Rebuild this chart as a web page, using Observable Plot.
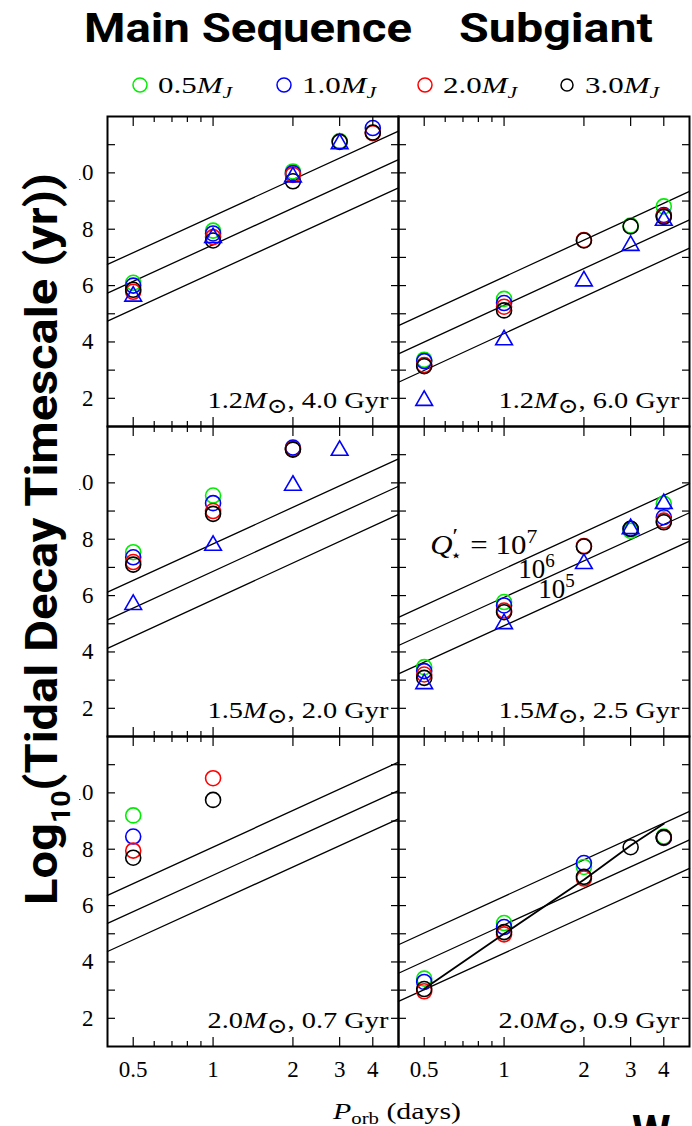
<!DOCTYPE html>
<html><head><meta charset="utf-8">
<script src="https://cdn.jsdelivr.net/npm/d3@7"></script>
<script src="https://cdn.jsdelivr.net/npm/@observablehq/plot@0.6"></script>
<style>
html,body{margin:0;padding:0;background:#fff;overflow:hidden;}
#chart{width:692px;height:1126px;}
</style></head><body><div id="chart"></div>
<script>
// ---------- data ----------
const columns = ["Main Sequence", "Subgiant"];
const rowIds = [0, 1, 2];
const periods = [0.5, 1, 2, 3, 4];               // orbital period (days)
const planetMasses = ["0.5", "1.0", "2.0", "3.0"]; // M_J
const massColors = ["#00ee00", "#0000ff", "#ff0000", "#000000"];
const xMajorTicks = [0.5, 1, 2, 3, 4];
const xMinorTicks = [0.6, 0.7, 0.8, 0.9];
const yLabelTicks = [2, 4, 6, 8, 10];
const yAllTicks = [2, 3, 4, 5, 6, 7, 8, 9, 10, 11];

// panels (reading order): column, row, stellar mass, age
const panelCol = [0, 1, 0, 1, 0, 1];
const panelRow = [0, 0, 1, 1, 2, 2];
const stellarMass = ["1.2", "1.2", "1.5", "1.5", "2.0", "2.0"];
const stellarAge = ["4.0", "6.0", "2.0", "2.5", "0.7", "0.9"];

// log10 tidal decay timescale, per panel, at periods 0.5,1,2,3,4 d
const tau05 = [
  [6.10, 7.95, 10.05, 11.13, null],
  [3.37, 5.53, null, 8.13, 8.81],
  [7.54, 9.55, 11.22, null, null],
  [3.46, 5.77, null, 8.30, 9.26],
  [9.20, null, null, null, null],
  [3.41, 5.38, 7.37, null, 8.45]
];
const tau10 = [
  [6.00, 7.85, 9.99, null, 11.59],
  [3.32, 5.38, null, null, 8.50],
  [7.36, 9.28, 11.25, null, null],
  [3.32, 5.65, null, 8.37, 8.78],
  [8.45, null, null, null, null],
  [3.29, 5.24, 7.51, null, 8.40]
];
const tau20 = [
  [5.78, 7.72, 9.93, null, 11.41],
  [3.18, 5.25, 7.62, null, 8.47],
  [7.19, 9.00, 11.20, null, null],
  [3.20, 5.47, 7.76, null, 8.66],
  [7.95, 10.52, null, null, null],
  [2.96, 4.98, 6.96, null, 8.42]
];
const tau30 = [
  [5.85, 7.60, 9.70, 11.10, 11.43],
  [3.14, 5.12, 7.60, 8.10, 8.44],
  [7.10, 8.90, 11.18, null, null],
  [3.08, 5.41, 7.74, 8.37, 8.60],
  [7.70, 9.75, null, null, null],
  [3.04, 5.06, 7.02, 8.07, 8.42]
];
const tauTriangle = [
  [5.62, 7.70, 9.85, 11.03, null],
  [1.92, 4.07, 6.16, 7.42, 8.31],
  [5.68, 7.78, 9.91, 11.15, null],
  [2.87, 5.00, 7.13, 8.37, 9.26],
  [null, null, null, null, null],
  [null, null, null, null, null]
];
const trackPanel = 5;
const trackTau = [3.05, 5.00, 6.92, 8.13, 8.90];

// Q'* reference lines: values at the two ends of the period axis
const qPeriods = [0.4, 5];
const qNames = ["1e7", "1e6", "1e5"];
const qTau7 = [[6.75, 11.48], [4.58, 9.34], [6.12, 10.85], [5.23, 9.97], [6.36, 11.09], [4.61, 9.34]];
const qTau6 = [[5.73, 10.47], [3.58, 8.33], [5.14, 9.88], [4.23, 8.94], [5.37, 10.08], [3.60, 8.33]];
const qTau5 = [[4.74, 9.47], [2.57, 7.33], [4.13, 8.88], [3.22, 7.93], [4.37, 9.08], [2.60, 7.32]];

// Q'* annotations (panel 3)
const qLabelPanel = 3;
const qLabelText = ["Q′⋆ = 10^7", "10^6", "10^5"];
const qLabelP = [0.527, 1.132, 1.346];
const qLabelTau = [7.49, 6.61, 5.93];

// ---------- tables ----------
const colOf = p => columns[panelCol[p]];
const circles = [];
[tau05, tau10, tau20, tau30].forEach((series, k) =>
  series.forEach((vals, p) => vals.forEach((v, i) => {
    if (v != null) circles.push({col: colOf(p), row: panelRow[p], P: periods[i], tau: v, mass: planetMasses[k]});
  })));
const triangles = [];
tauTriangle.forEach((vals, p) => vals.forEach((v, i) => {
  if (v != null) triangles.push({col: colOf(p), row: panelRow[p], P: periods[i], tau: v});
}));
const qRows = [];
[qTau7, qTau6, qTau5].forEach((series, k) => series.forEach((vals, p) => vals.forEach((v, i) =>
  qRows.push({col: colOf(p), row: panelRow[p], P: qPeriods[i], tau: v, q: qNames[k]}))));
const trackRows = trackTau.map((v, i) => ({col: colOf(trackPanel), row: panelRow[trackPanel], P: periods[i], tau: v}));
const panelLabels = stellarMass.map((m, p) => ({col: colOf(p), row: panelRow[p], text: `${m}M⊙, ${stellarAge[p]} Gyr`}));
const qLabels = qLabelText.map((t, i) => ({col: colOf(qLabelPanel), row: panelRow[qLabelPanel], P: qLabelP[i], tau: qLabelTau[i], text: t}));

const tickCommon = {fill: "none", label: null, facetAnchor: null, strokeWidth: 1.2};

const chart = Plot.plot({
  width: 692, height: 1126,
  marginTop: 116, marginBottom: 80, marginLeft: 107, marginRight: 3,
  style: {fontFamily: "'Liberation Serif', 'DejaVu Serif', serif", fontSize: "23px", color: "black", background: "white", overflow: "hidden"},
  x: {type: "log", domain: [0.4, 5]},
  y: {domain: [1, 12]},
  fx: {domain: columns, padding: 0, axis: null},
  fy: {domain: rowIds, padding: 0, axis: null},
  color: {domain: planetMasses, range: massColors},
  marks: [
    Plot.line(qRows, {x: "P", y: "tau", z: "q", fx: "col", fy: "row", stroke: "black", strokeWidth: 1.3}),
    Plot.dot(circles, {x: "P", y: "tau", fx: "col", fy: "row", stroke: "mass", fill: "none", r: 7.5, strokeWidth: 1.6}),
    Plot.dot(triangles, {x: "P", y: "tau", fx: "col", fy: "row", symbol: "triangle", stroke: "#0000ff", fill: "none", r: 6.2, strokeWidth: 1.6}),
    Plot.line(trackRows, {x: "P", y: "tau", fx: "col", fy: "row", stroke: "black", strokeWidth: 1.8}),
    Plot.frame({stroke: "black", strokeWidth: 2}),
    Plot.axisY({anchor: "left", ticks: yLabelTicks, tickSize: 0, tickPadding: 14, label: null, tickFormat: d => String(d)}),
    Plot.axisY({anchor: "left", ticks: yAllTicks, tickSize: -8, ...tickCommon}),
    Plot.axisY({anchor: "right", ticks: yAllTicks, tickSize: -8, ...tickCommon}),
    Plot.axisX({anchor: "bottom", ticks: xMajorTicks, tickSize: 0, tickPadding: 14, label: null, tickFormat: d => String(d)}),
    Plot.axisX({anchor: "bottom", ticks: xMajorTicks, tickSize: -9, ...tickCommon}),
    Plot.axisX({anchor: "bottom", ticks: xMinorTicks, tickSize: -5, ...tickCommon}),
    Plot.axisX({anchor: "top", ticks: xMajorTicks, tickSize: -9, ...tickCommon}),
    Plot.axisX({anchor: "top", ticks: xMinorTicks, tickSize: -5, ...tickCommon}),
    Plot.text(panelLabels, {fx: "col", fy: "row", text: "text", frameAnchor: "bottom-right", textAnchor: "end", lineAnchor: "bottom", dx: -10, dy: -19, fontSize: 24, fill: "black"}),
    Plot.text(qLabels, {x: "P", y: "tau", fx: "col", fy: "row", text: "text", textAnchor: "start", lineAnchor: "bottom", fontSize: 27, fill: "black"})
  ]
});
document.getElementById("chart").appendChild(chart);
chart.style.overflow = "hidden";

const svg = d3.select(chart);

// math formatting of the panel and Q'* labels
svg.selectAll("text").each(function () {
  const s = this.textContent;
  const t = d3.select(this);
  const m = s.match(/^(.*)M⊙, (.*)$/);
  if (m) {
    t.text(null);
    t.append("tspan").text(m[1]);
    t.append("tspan").attr("font-style", "italic").text("M");
    t.append("tspan").attr("font-size", "21px").attr("dy", "5").text("⊙");
    t.append("tspan").attr("dy", "-5").text(", " + m[2]);
    t.attr("textLength", 181).attr("lengthAdjust", "spacingAndGlyphs");
    return;
  }
  if (s.includes("^")) {
    const parts = s.split("^");
    t.text(null);
    if (parts[0].startsWith("Q")) {
      t.append("tspan").attr("font-style", "italic").text("Q");
      t.append("tspan").attr("font-size", "22px").attr("dy", "-11").text("′");
      t.append("tspan").attr("font-size", "17px").attr("dx", "-7").attr("dy", "18").text("⋆");
      t.append("tspan").attr("dy", "-7").text(parts[0].replace(/^Q′⋆/, ""));
      t.append("tspan").attr("font-size", "19px").attr("dy", "-11").text(parts[1]);
      t.attr("textLength", 107).attr("lengthAdjust", "spacingAndGlyphs");
    } else {
      t.append("tspan").text(parts[0]);
      t.append("tspan").attr("font-size", "19px").attr("dy", "-11").text(parts[1]);
    }
  }
});

// ---------- annotations ----------
const sans = "Roboto, 'Open Sans', 'DejaVu Sans', sans-serif";
const serif = "'Liberation Serif', 'DejaVu Serif', serif";

// white band behind the big y title
svg.append("rect").attr("x", 0).attr("y", 100).attr("width", 79).attr("height", 960).attr("fill", "white");

// titles
svg.append("text").attr("x", 84).attr("y", 42).attr("text-anchor", "start").attr("font-family", sans).attr("font-weight", 700)
  .attr("font-size", 41).attr("textLength", 328).attr("lengthAdjust", "spacingAndGlyphs").attr("fill", "black").text("Main Sequence");
svg.append("text").attr("x", 459).attr("y", 42).attr("text-anchor", "start").attr("font-family", sans).attr("font-weight", 700)
  .attr("font-size", 41).attr("textLength", 194).attr("lengthAdjust", "spacingAndGlyphs").attr("fill", "black").text("Subgiant");

// y title
const yt = svg.append("text").attr("transform", "rotate(-90)").attr("x", -539).attr("y", 57)
  .attr("text-anchor", "middle").attr("font-family", sans).attr("font-weight", 700).attr("font-size", 45)
  .attr("textLength", 732).attr("lengthAdjust", "spacingAndGlyphs").attr("fill", "black");
yt.append("tspan").text("Log");
yt.append("tspan").attr("font-size", 26).attr("dy", 13).text("10");
yt.append("tspan").attr("dy", -13).text("(Tidal Decay Timescale (yr))");

// legend
const legendX = [140, 284, 425, 567];
const legendR = [7, 7, 7, 6];
planetMasses.forEach((m, k) => {
  svg.append("circle").attr("cx", legendX[k]).attr("cy", 85).attr("r", legendR[k])
    .attr("fill", "none").attr("stroke", massColors[k]).attr("stroke-width", 1.5);
  const t = svg.append("text").attr("x", legendX[k] + 18).attr("y", 93).attr("text-anchor", "start").attr("font-family", serif)
    .attr("font-size", 23).attr("fill", "black").attr("textLength", 74).attr("lengthAdjust", "spacingAndGlyphs");
  t.append("tspan").text(m);
  t.append("tspan").attr("font-style", "italic").text("M");
  t.append("tspan").attr("font-style", "italic").attr("font-size", "16px").attr("dy", "5").text("J");
});

// x title
const xt = svg.append("text").attr("x", 397).attr("y", 1119).attr("text-anchor", "middle").attr("font-family", serif)
  .attr("font-size", 23).attr("fill", "black").attr("textLength", 128).attr("lengthAdjust", "spacingAndGlyphs");
xt.append("tspan").attr("font-style", "italic").text("P");
xt.append("tspan").attr("font-size", "16px").attr("dy", "5").text("orb");
xt.append("tspan").attr("dy", "-5").text(" (days)");

// cut-off word at the bottom right
svg.append("text").attr("x", 632).attr("y", 1147).attr("text-anchor", "start").attr("font-family", sans).attr("font-weight", 700)
  .attr("font-size", 44).attr("fill", "black").text("W");
</script>
</body></html>
